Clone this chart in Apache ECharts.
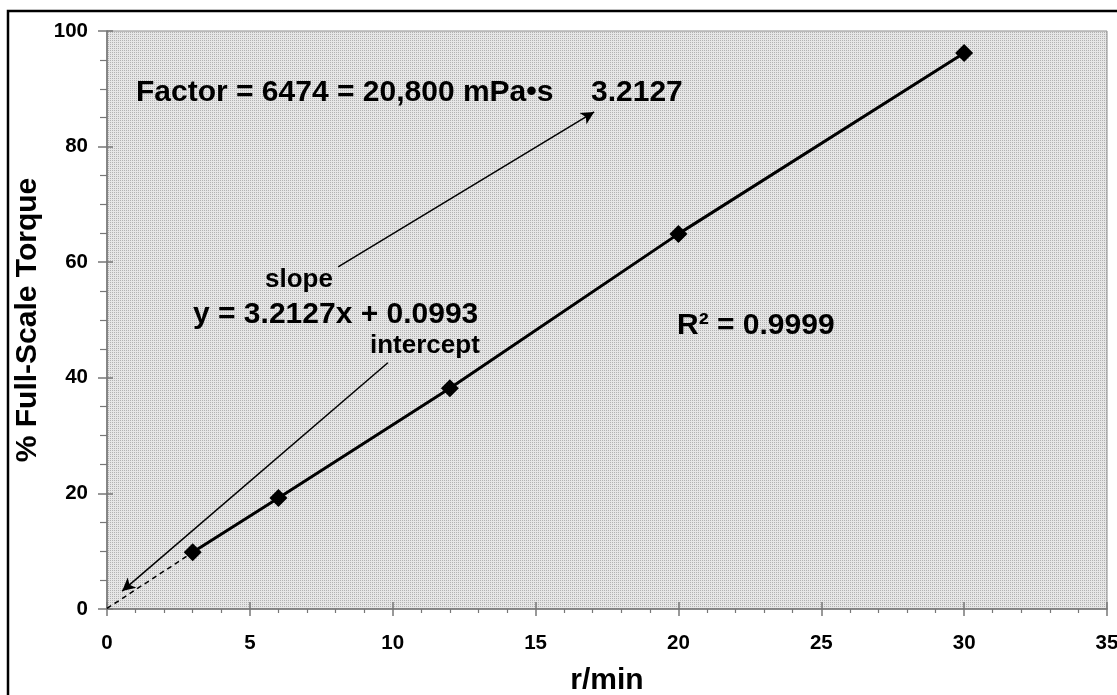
<!DOCTYPE html>
<html>
<head>
<meta charset="utf-8">
<script src="https://cdn.jsdelivr.net/npm/echarts@6/dist/echarts.min.js"></script>
<style>
html,body{margin:0;padding:0;background:#fff;}
#chart{width:1117px;height:695px;}
</style>
</head>
<body>
<div id="chart"></div>
<script>
// ---- data ----
var speeds = [3, 6, 12, 20, 30];              // r/min
var torque = [9.8, 19.2, 38.2, 64.9, 96.2];   // % full-scale torque
var interceptValue = 0.0993;
var xTicks = [0, 5, 10, 15, 20, 25, 30, 35];
var yTicks = [0, 20, 40, 60, 80, 100];
var slopeArrow = [[8.09, 59.2], [17.05, 86.0]];
var interceptArrow = [[9.83, 42.6], [0.53, 3.1]];

var FONT = '"Liberation Sans", Arial, sans-serif';

// stipple pattern for the plot background
var pc = document.createElement('canvas');
pc.width = 2; pc.height = 2;
var pctx = pc.getContext('2d');
pctx.fillStyle = '#e6e6e6'; pctx.fillRect(0, 0, 2, 2);
pctx.fillStyle = '#b2b2b2'; pctx.fillRect(0, 0, 1, 1);

var mainData = speeds.map(function (x, i) { return [x, torque[i]]; });
var dashData = [[0, interceptValue], [speeds[0], torque[0]]];

var chart = echarts.init(document.getElementById('chart'), null, {renderer: 'canvas'});

var axisGray = '#777777';

var option = {
  animation: false,
  backgroundColor: '#fff',
  grid: {
    left: 107, right: 10, top: 31, bottom: 86,
    containLabel: false,
    outerBoundsMode: 'none',
    show: true,
    backgroundColor: {image: pc, repeat: 'repeat'},
    borderColor: '#8c8c8c',
    borderWidth: 1
  },
  xAxis: [{
    type: 'value', min: 0, max: 35, interval: 5,
    name: 'r/min', nameLocation: 'middle', nameGap: 57,
    nameTextStyle: {fontFamily: FONT, fontWeight: 'bold', fontSize: 30, color: '#000'},
    axisLine: {show: true, onZero: false, lineStyle: {color: axisGray, width: 1.6}},
    axisTick: {show: true, length: 7, lineStyle: {color: axisGray, width: 1.5}},
    minorTick: {show: true, splitNumber: 5, length: 4, lineStyle: {color: axisGray, width: 1.2}},
    axisLabel: {margin: 24, fontFamily: FONT, fontWeight: 'bold', fontSize: 20.5, color: '#000',
      formatter: function (v) { return xTicks.indexOf(v) >= 0 ? String(v) : ''; }},
    splitLine: {show: false}
  }, {
    type: 'value', min: 0, max: 35, interval: 5, position: 'bottom',
    axisLine: {show: false},
    axisTick: {show: true, inside: true, length: 7, lineStyle: {color: axisGray, width: 1.5}},
    axisLabel: {show: false}, splitLine: {show: false}
  }],
  yAxis: [{
    type: 'value', min: 0, max: 100, interval: 20,
    name: '% Full-Scale Torque', nameLocation: 'middle', nameGap: 62,
    nameTextStyle: {fontFamily: FONT, fontWeight: 'bold', fontSize: 30, color: '#000'},
    axisLine: {show: true, onZero: false, lineStyle: {color: axisGray, width: 1.6}},
    axisTick: {show: true, length: 9, lineStyle: {color: axisGray, width: 1.5}},
    minorTick: {show: true, splitNumber: 4, length: 7, lineStyle: {color: axisGray, width: 1.2}},
    axisLabel: {margin: 19, fontFamily: FONT, fontWeight: 'bold', fontSize: 20.5, color: '#000',
      formatter: function (v) { return yTicks.indexOf(v) >= 0 ? String(v) : ''; }},
    splitLine: {show: false}
  }, {
    type: 'value', min: 0, max: 100, interval: 20, position: 'left',
    axisLine: {show: false},
    axisTick: {show: true, inside: true, length: 6, lineStyle: {color: axisGray, width: 1.5}},
    axisLabel: {show: false}, splitLine: {show: false}
  }],
  series: [{
    name: 'extrapolation',
    type: 'line',
    data: dashData,
    symbol: 'none',
    lineStyle: {color: '#000', width: 1.5, type: [5, 4]},
    z: 3
  }, {
    name: 'torque',
    type: 'line',
    data: mainData,
    symbol: 'diamond',
    symbolSize: 18,
    itemStyle: {color: '#000'},
    lineStyle: {color: '#000', width: 3},
    z: 4,
    markLine: {
      silent: true,
      symbol: ['none', 'arrow'],
      symbolSize: [10, 13],
      label: {show: false},
      lineStyle: {color: '#000', width: 1.5, type: 'solid'},
      data: [
        [{coord: slopeArrow[0]}, {coord: slopeArrow[1]}],
        [{coord: interceptArrow[0]}, {coord: interceptArrow[1]}]
      ]
    }
  }],
  graphic: [{
    type: 'rect', silent: true,
    shape: {x: 8, y: 11, width: 1130, height: 720},
    style: {fill: 'none', stroke: '#000', lineWidth: 2.5}
  }, {
    type: 'text', x: 136, y: 93,
    style: {text: 'Factor = 6474 = 20,800 mPa\u2022s', font: 'bold 30px ' + FONT, fill: '#000', verticalAlign: 'middle'}
  }, {
    type: 'text', x: 591, y: 93,
    style: {text: '3.2127', font: 'bold 30px ' + FONT, fill: '#000', verticalAlign: 'middle'}
  }, {
    type: 'text', x: 265, y: 280,
    style: {text: 'slope', font: 'bold 26px ' + FONT, fill: '#000', verticalAlign: 'middle'}
  }, {
    type: 'text', x: 193, y: 315,
    style: {text: 'y = 3.2127x + 0.0993', font: 'bold 30px ' + FONT, fill: '#000', verticalAlign: 'middle'}
  }, {
    type: 'text', x: 370, y: 346,
    style: {text: 'intercept', font: 'bold 26px ' + FONT, fill: '#000', verticalAlign: 'middle'}
  }, {
    type: 'text', x: 677, y: 326,
    style: {text: 'R\u00b2 = 0.9999', font: 'bold 30px ' + FONT, fill: '#000', verticalAlign: 'middle'}
  }]
};
chart.setOption(option);
</script>
</body>
</html>
